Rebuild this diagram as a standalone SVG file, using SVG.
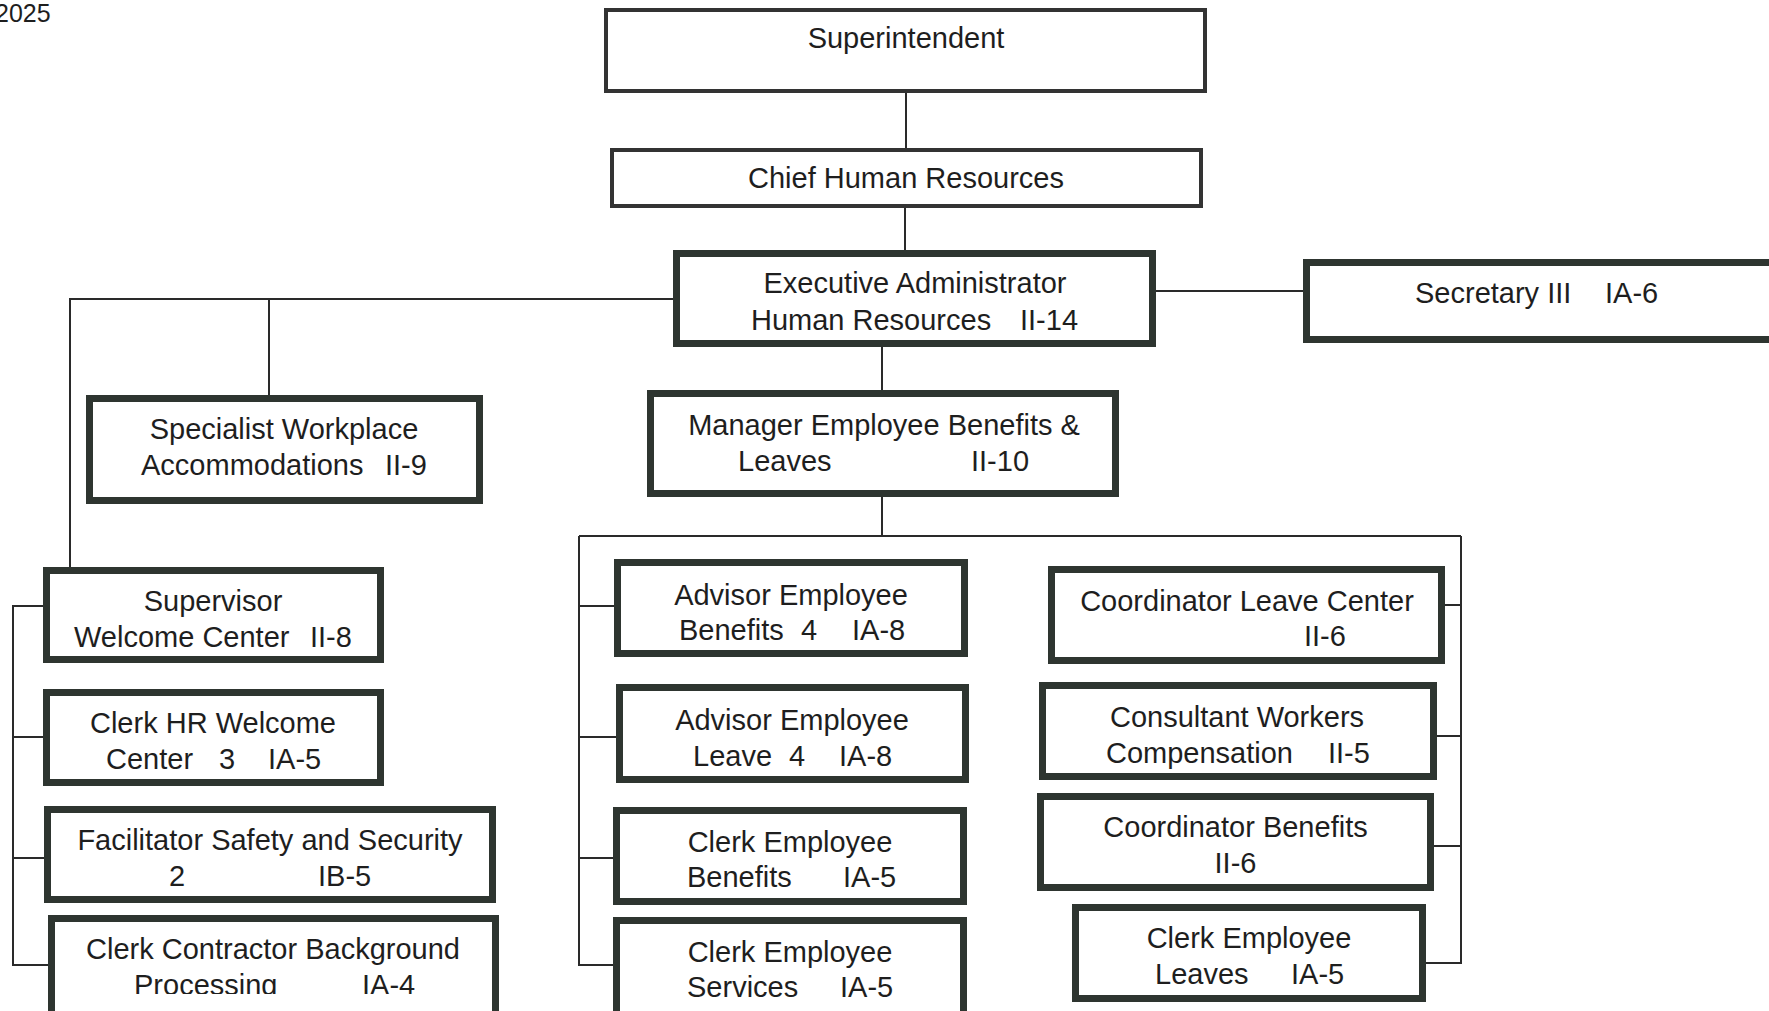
<svg xmlns="http://www.w3.org/2000/svg" width="1769" height="1011" viewBox="0 0 1769 1011">
<style>
text{font-family:"Liberation Sans",Arial,sans-serif;font-size:29px;fill:#1e1e1e}
.m{text-anchor:middle}
.thin{fill:#fff;stroke:#333;stroke-width:4}
.box{fill:#fff;stroke:#2e3530;stroke-width:7}
.ln{fill:none;stroke:#2a2a2a;stroke-width:2}
</style>
<defs>
<clipPath id="clipProc"><rect x="0" y="0" width="600" height="994"/></clipPath>
<clipPath id="clipComp"><rect x="1000" y="600" width="500" height="764"/></clipPath>
</defs>
<rect width="1769" height="1011" fill="#fff"/>
<text x="-5" y="22" style="font-size:25px">2025</text>
<g id="connectors">
<path class="ln" d="M906 93V148"/>
<path class="ln" d="M905 208V250"/>
<path class="ln" d="M1156 291H1303"/>
<path class="ln" d="M673 299H70V567M269 299V395"/>
<path class="ln" d="M43 606H13V965H48M13 737H43M13 858H44"/>
<path class="ln" d="M882 347V390"/>
<path class="ln" d="M882 497V536M579 536H1461M579 536V965H613M579 606H614M579 737H616M579 858H613"/>
<path class="ln" d="M1461 536V963H1426M1445 605H1461M1437 736H1461M1434 846H1461"/>
</g>
<g id="superintendent"><rect class="thin" x="606" y="10" width="599" height="81"/><text class="m" x="906" y="48">Superintendent</text></g>
<g id="chief"><rect class="thin" x="612" y="150" width="589" height="56"/><text class="m" x="906" y="188">Chief Human Resources</text></g>
<g id="exec"><rect class="box" x="676.5" y="253.5" width="476" height="90"/><text class="m" x="915" y="293">Executive Administrator</text><text y="330"><tspan x="751">Human Resources</tspan><tspan x="1020">II-14</tspan></text></g>
<g id="secretary"><rect class="box" x="1306.5" y="262.5" width="470" height="77"/><text y="303"><tspan x="1415">Secretary III</tspan><tspan x="1605">IA-6</tspan></text></g>
<g id="specialist"><rect class="box" x="89.5" y="398.5" width="390" height="102"/><text class="m" x="284" y="439">Specialist Workplace</text><text y="475"><tspan x="141">Accommodations</tspan><tspan x="385">II-9</tspan></text></g>
<g id="manager"><rect class="box" x="650.5" y="393.5" width="465" height="100"/><text class="m" x="884" y="435">Manager Employee Benefits &amp;</text><text y="471"><tspan x="738">Leaves</tspan><tspan x="971">II-10</tspan></text></g>
<g id="supervisor"><rect class="box" x="46.5" y="570.5" width="334" height="89"/><text class="m" x="213" y="611">Supervisor</text><text y="647"><tspan x="74">Welcome Center</tspan><tspan x="310">II-8</tspan></text></g>
<g id="clerk-hr"><rect class="box" x="46.5" y="692.5" width="334" height="90"/><text class="m" x="213" y="733">Clerk HR Welcome</text><text y="769"><tspan x="106">Center</tspan><tspan x="219">3</tspan><tspan x="268">IA-5</tspan></text></g>
<g id="facilitator"><rect class="box" x="47.5" y="809.5" width="445" height="90"/><text class="m" x="270" y="850">Facilitator Safety and Security</text><text y="886"><tspan x="169">2</tspan><tspan x="318">IB-5</tspan></text></g>
<g id="contractor"><rect class="box" x="51.5" y="918.5" width="444" height="98"/><text class="m" x="273" y="959">Clerk Contractor Background</text><text y="995" clip-path="url(#clipProc)"><tspan x="134">Processing</tspan><tspan x="362">IA-4</tspan></text></g>
<g id="advisor-benefits"><rect class="box" x="617.5" y="562.5" width="347" height="91"/><text class="m" x="791" y="605">Advisor Employee</text><text y="640"><tspan x="679">Benefits</tspan><tspan x="801">4</tspan><tspan x="852">IA-8</tspan></text></g>
<g id="advisor-leave"><rect class="box" x="619.5" y="687.5" width="346" height="92"/><text class="m" x="792" y="730">Advisor Employee</text><text y="766"><tspan x="693">Leave</tspan><tspan x="789">4</tspan><tspan x="839">IA-8</tspan></text></g>
<g id="clerk-benefits"><rect class="box" x="616.5" y="810.5" width="347" height="91"/><text class="m" x="790" y="852">Clerk Employee</text><text y="887"><tspan x="687">Benefits</tspan><tspan x="843">IA-5</tspan></text></g>
<g id="clerk-services"><rect class="box" x="616.5" y="920.5" width="347" height="96"/><text class="m" x="790" y="962">Clerk Employee</text><text y="997"><tspan x="687">Services</tspan><tspan x="840">IA-5</tspan></text></g>
<g id="coordinator-leave"><rect class="box" x="1051.5" y="569.5" width="390" height="91"/><text class="m" x="1247" y="611">Coordinator Leave Center</text><text x="1304" y="646">II-6</text></g>
<g id="consultant"><rect class="box" x="1042.5" y="685.5" width="391" height="91"/><text class="m" x="1237" y="727">Consultant Workers</text><text y="763" clip-path="url(#clipComp)"><tspan x="1106">Compensation</tspan><tspan x="1328">II-5</tspan></text></g>
<g id="coordinator-benefits"><rect class="box" x="1040.5" y="796.5" width="390" height="91"/><text class="m" x="1235.5" y="837">Coordinator Benefits</text><text class="m" x="1235.5" y="873">II-6</text></g>
<g id="clerk-leaves"><rect class="box" x="1075.5" y="907.5" width="347" height="91"/><text class="m" x="1249" y="948">Clerk Employee</text><text y="984"><tspan x="1155">Leaves</tspan><tspan x="1291">IA-5</tspan></text></g>
</svg>
